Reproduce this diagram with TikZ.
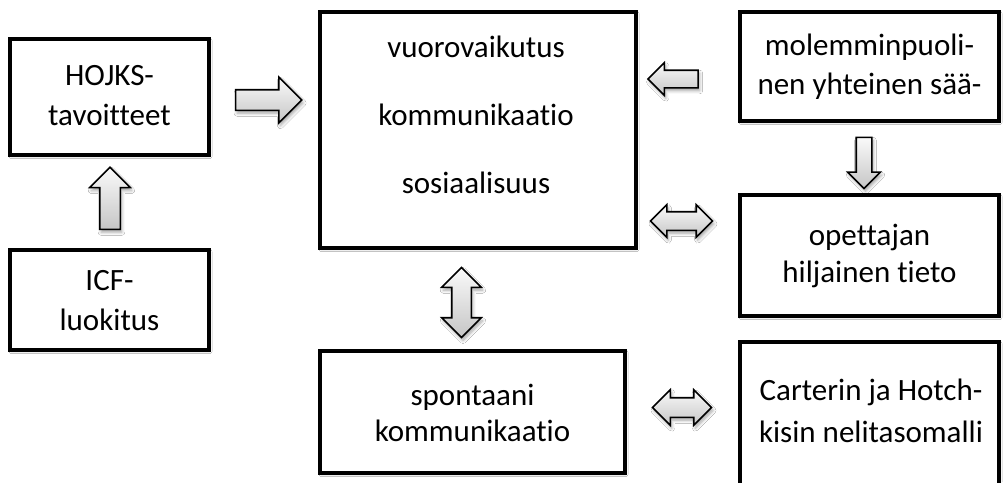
\documentclass[tikz,border=0pt]{standalone}
\usepackage{fontspec}
\setmainfont{Carlito}[Ligatures=NoCommon]
\usetikzlibrary{shapes.arrows,shadows.blur}

\tikzset{
  panel/.style 2 args={draw=black, line width=3.6pt, fill=white, inner sep=0pt,
    minimum width=#1, minimum height=#2,
    blur shadow={shadow xshift=1pt, shadow yshift=-1.5pt, shadow blur radius=2pt, shadow opacity=30}},
  lbl/.style={anchor=base, inner sep=0pt, font=\fontsize{31}{37}\selectfont},
  blockarrow/.style={draw=black, line width=1.6pt,
    top color=gray!4, bottom color=gray!45,
    blur shadow={shadow xshift=1.5pt, shadow yshift=-3pt, shadow blur radius=3pt, shadow opacity=35}},
  % args: length, half shaft width, head extension, direction
  onearrow/.style n args={4}{blockarrow, single arrow, single arrow head indent=0pt,
    minimum height=#1, inner sep=#2, single arrow head extend=#3, shape border rotate=#4},
  twoarrow/.style n args={4}{blockarrow, double arrow, double arrow head indent=0pt,
    minimum height=#1, inner sep=#2, double arrow head extend=#3, shape border rotate=#4},
}

\begin{document}
\begin{tikzpicture}[x=1pt, y=-1pt]
\clip (0,0) rectangle (1004,482);
\fill[white] (0,0) rectangle (1004,482);

% boxes
\node[panel={199pt}{116pt}] (hojks) at (109.5,97) {};
\node[panel={199pt}{100pt}] (icf) at (109.5,300) {};
\node[panel={316pt}{236pt}] (core) at (478,130) {};
\node[panel={259pt}{109pt}] (mutual) at (869.5,66.5) {};
\node[panel={259pt}{121pt}] (tacit) at (869.5,255.5) {};
\node[panel={305pt}{122pt}] (spont) at (472.5,412) {};
\node[panel={259pt}{180pt}] (carter) at (869.5,432) {};

% box texts
\node[lbl] (hojks-a) at (109.5,85) {HOJKS-};
\node[lbl] (hojks-b) at (109.5,125) {tavoitteet};
\node[lbl] (icf-a) at (109.5,290) {ICF-};
\node[lbl] (icf-b) at (109.5,330) {luokitus};
\node[lbl] (core-a) at (476,57) {vuorovaikutus};
\node[lbl] (core-b) at (476,125) {kommunikaatio};
\node[lbl] (core-c) at (476,193) {sosiaalisuus};
\node[lbl] (mutual-a) at (869.5,55) {molemminpuoli-};
\node[lbl] (mutual-b) at (869.5,94) {nen yhteinen sää-};
\node[lbl] (tacit-a) at (869.5,245) {opettajan};
\node[lbl] (tacit-b) at (869.5,282) {hiljainen tieto};
\node[lbl] (spont-a) at (472.5,405) {spontaani};
\node[lbl] (spont-b) at (472.5,441) {kommunikaatio};
\node[lbl] (carter-a) at (871,400) {Carterin ja Hotch-};
\node[lbl] (carter-b) at (871,442) {kisin nelitasomalli};

% block arrows between the boxes
\node[onearrow={66pt}{9.5pt}{12.5pt}{0}] (a-hojks-core) at (263.5,100) {};
\node[onearrow={62pt}{9.5pt}{10pt}{90}] (a-icf-hojks) at (110,203.5) {};
\node[onearrow={50pt}{8pt}{7.5pt}{180}] (a-mutual-core) at (677.5,79) {};
\node[onearrow={51pt}{7pt}{8.5pt}{270}] (a-mutual-tacit) at (864,159) {};
\node[twoarrow={62pt}{8.5pt}{7pt}{0}] (a-core-tacit) at (681.5,221) {};
\node[twoarrow={70pt}{9pt}{10pt}{90}] (a-core-spont) at (461.5,302.5) {};
\node[twoarrow={59pt}{9pt}{8pt}{0}] (a-spont-carter) at (682,407.5) {};
\end{tikzpicture}
\end{document}
